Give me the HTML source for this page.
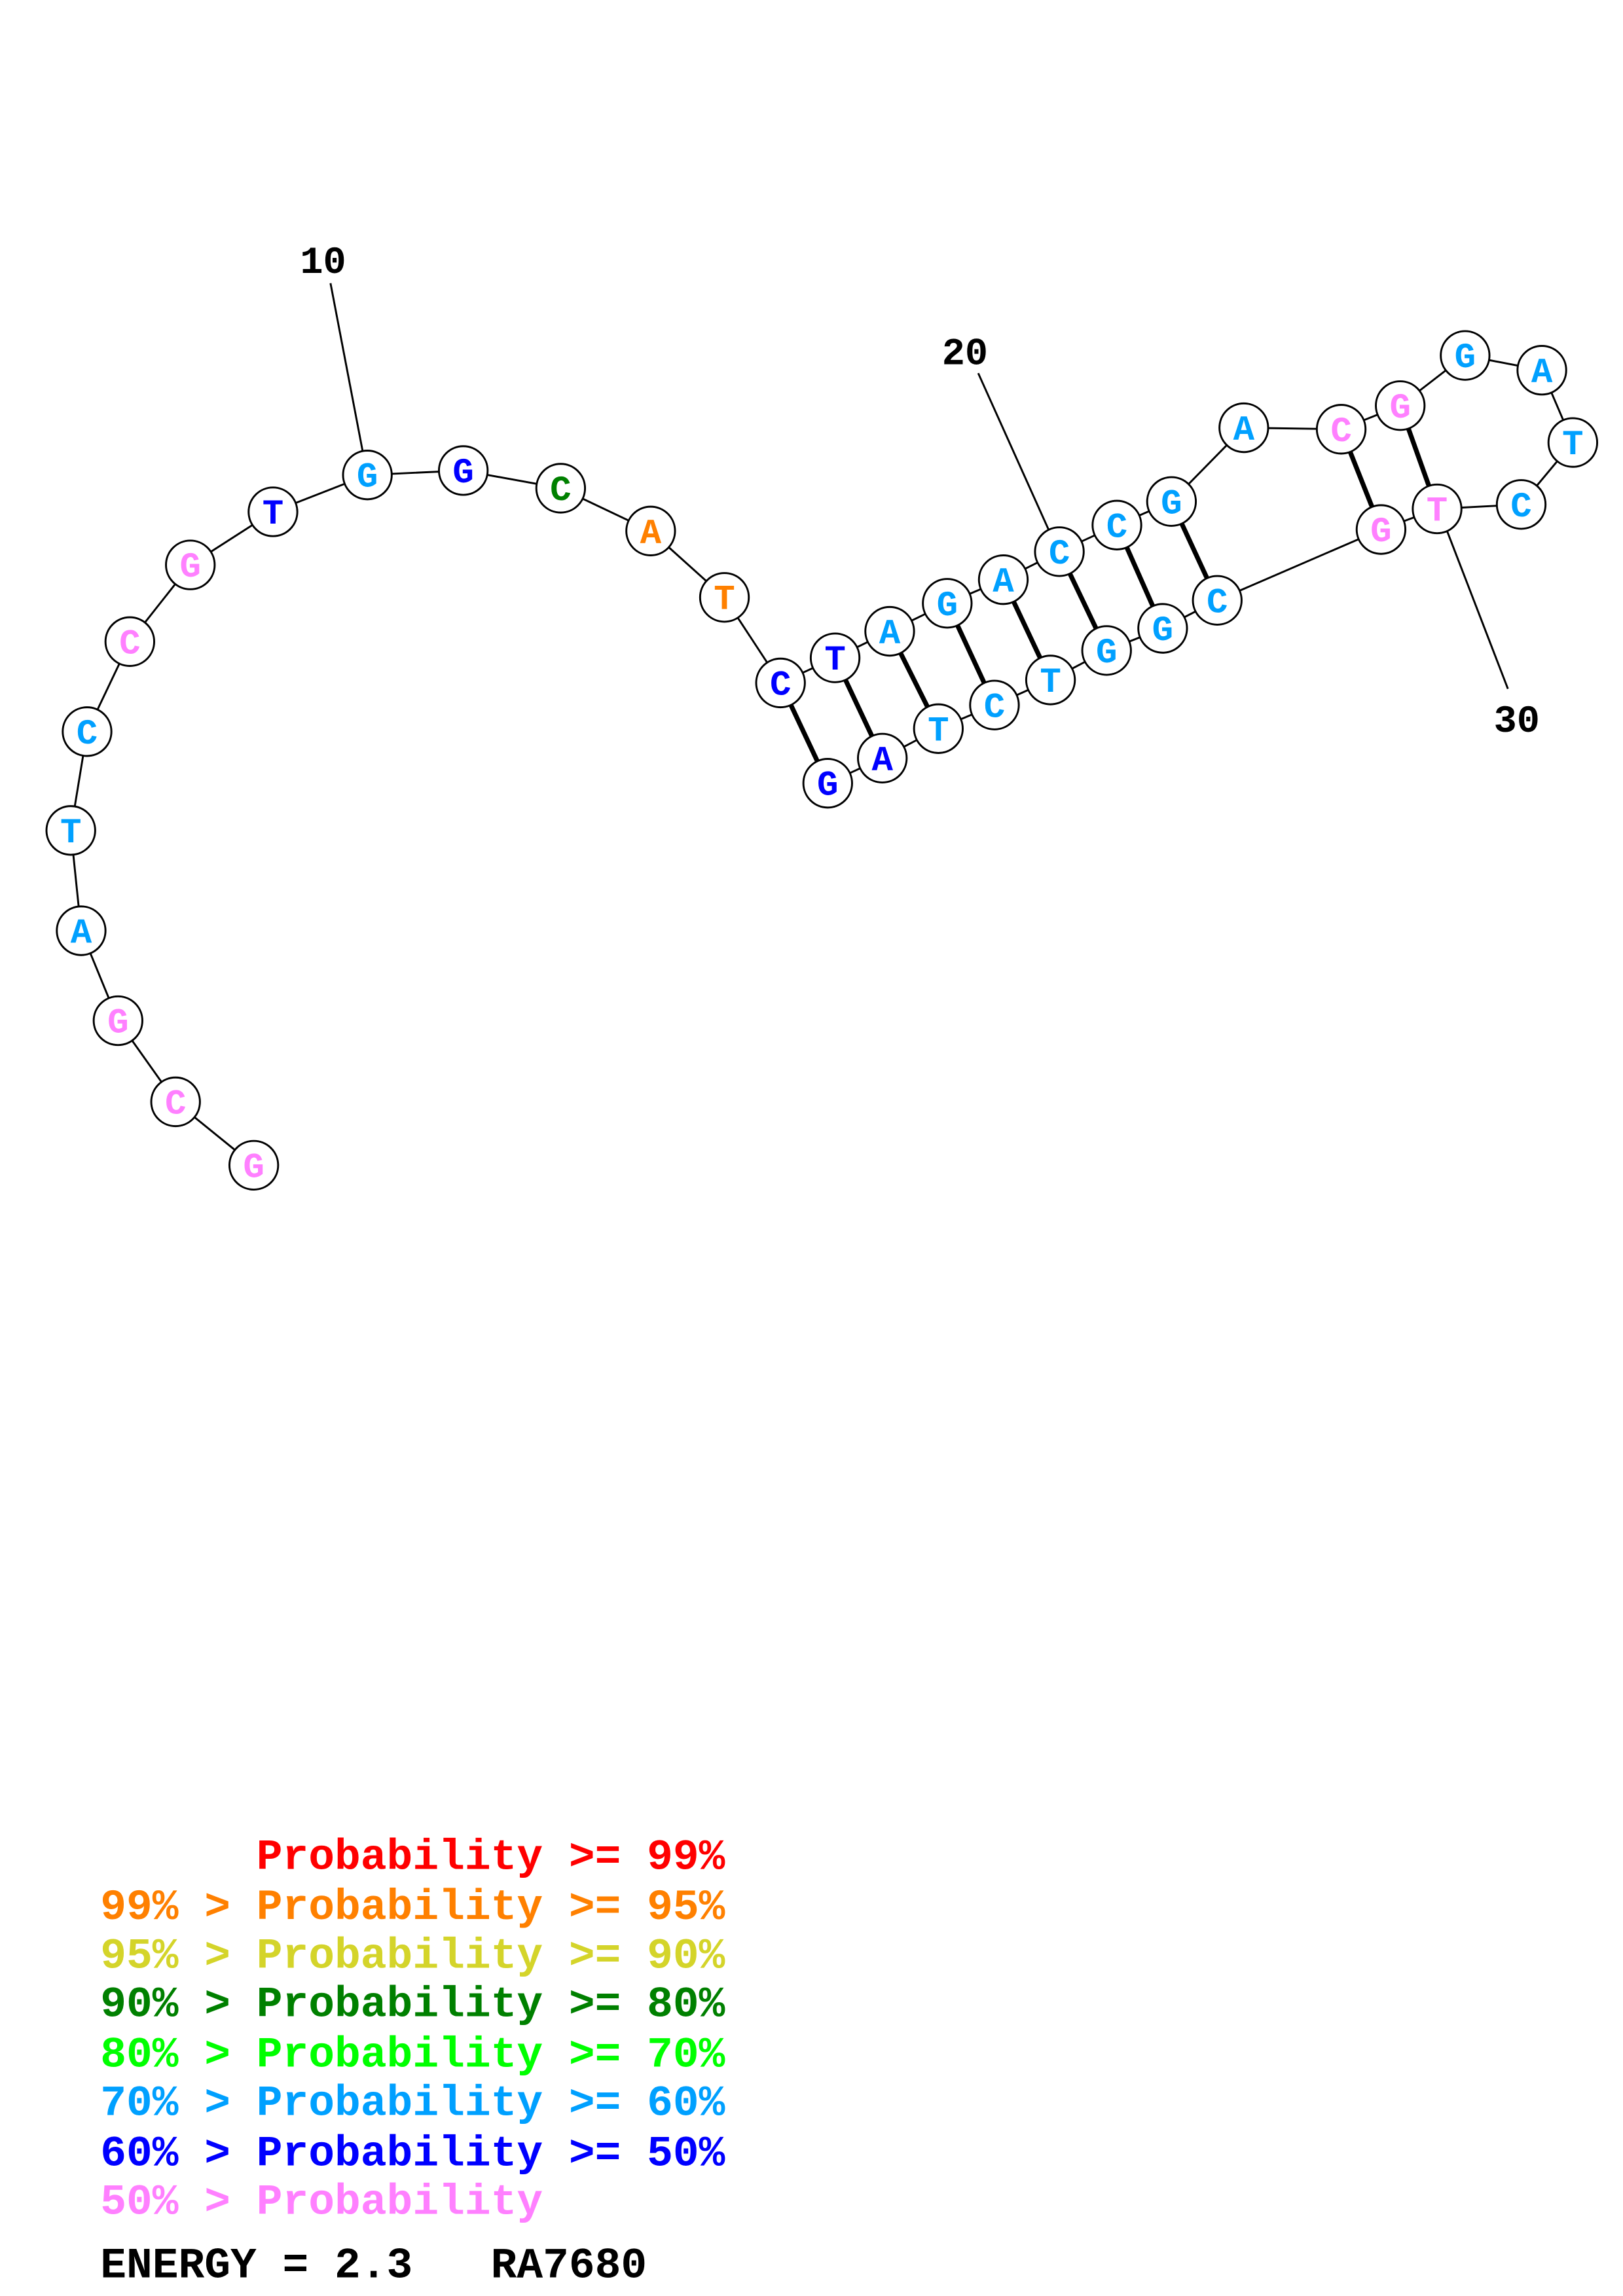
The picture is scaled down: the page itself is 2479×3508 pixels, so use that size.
<!DOCTYPE html>
<html><head><meta charset="utf-8"><style>html,body{margin:0;padding:0;background:#fff}svg{display:block}.pre{white-space:pre}</style></head>
<body>
<svg xmlns="http://www.w3.org/2000/svg" width="2479" height="3508" viewBox="0 0 1100 1556.6">
<g stroke="#000" stroke-width="1.3" fill="none">
<polyline points="172,790 119,747 80,692 55,631 48,563 59,496 88,435 129,383 185,347 249,322 314,319 380,331 441,360 491,405 529,463 566,446 603,428 642,409 680,393 718,374 757,356 794,340 843,290 909,291 949,275 993,241 1045,251 1066,300 1031,342 974,345 936,359 825,407 788,426 750,441 712,461 674,478 636,494 598,514 561,531"/>
<line x1="224" y1="192" x2="246" y2="307"/>
<line x1="663" y1="253" x2="712" y2="362"/>
<line x1="980" y1="358" x2="1022" y2="467"/>
</g>
<g stroke="#000" stroke-width="3.2">
<line x1="529" y1="463" x2="561" y2="531"/>
<line x1="566" y1="446" x2="598" y2="514"/>
<line x1="603" y1="428" x2="636" y2="494"/>
<line x1="642" y1="409" x2="674" y2="478"/>
<line x1="680" y1="393" x2="712" y2="461"/>
<line x1="718" y1="374" x2="750" y2="441"/>
<line x1="757" y1="356" x2="788" y2="426"/>
<line x1="794" y1="340" x2="825" y2="407"/>
<line x1="909" y1="291" x2="936" y2="359"/>
<line x1="949" y1="275" x2="974" y2="345"/>
</g>
<g stroke="#000" stroke-width="1.3" fill="#fff">
<circle cx="172" cy="790" r="16.5"/><circle cx="119" cy="747" r="16.5"/><circle cx="80" cy="692" r="16.5"/><circle cx="55" cy="631" r="16.5"/><circle cx="48" cy="563" r="16.5"/><circle cx="59" cy="496" r="16.5"/><circle cx="88" cy="435" r="16.5"/><circle cx="129" cy="383" r="16.5"/><circle cx="185" cy="347" r="16.5"/><circle cx="249" cy="322" r="16.5"/><circle cx="314" cy="319" r="16.5"/><circle cx="380" cy="331" r="16.5"/><circle cx="441" cy="360" r="16.5"/><circle cx="491" cy="405" r="16.5"/><circle cx="529" cy="463" r="16.5"/><circle cx="566" cy="446" r="16.5"/><circle cx="603" cy="428" r="16.5"/><circle cx="642" cy="409" r="16.5"/><circle cx="680" cy="393" r="16.5"/><circle cx="718" cy="374" r="16.5"/><circle cx="757" cy="356" r="16.5"/><circle cx="794" cy="340" r="16.5"/><circle cx="843" cy="290" r="16.5"/><circle cx="909" cy="291" r="16.5"/><circle cx="949" cy="275" r="16.5"/><circle cx="993" cy="241" r="16.5"/><circle cx="1045" cy="251" r="16.5"/><circle cx="1066" cy="300" r="16.5"/><circle cx="1031" cy="342" r="16.5"/><circle cx="974" cy="345" r="16.5"/><circle cx="936" cy="359" r="16.5"/><circle cx="825" cy="407" r="16.5"/><circle cx="788" cy="426" r="16.5"/><circle cx="750" cy="441" r="16.5"/><circle cx="712" cy="461" r="16.5"/><circle cx="674" cy="478" r="16.5"/><circle cx="636" cy="494" r="16.5"/><circle cx="598" cy="514" r="16.5"/><circle cx="561" cy="531" r="16.5"/>
</g>
<g font-family="Liberation Mono, monospace" font-weight="bold" font-size="24" text-anchor="middle">
<text x="172" y="798" fill="#ff80ff">G</text><text x="119" y="755" fill="#ff80ff">C</text><text x="80" y="700" fill="#ff80ff">G</text><text x="55" y="639" fill="#00a0ff">A</text><text x="48" y="571" fill="#00a0ff">T</text><text x="59" y="504" fill="#00a0ff">C</text><text x="88" y="443" fill="#ff80ff">C</text><text x="129" y="391" fill="#ff80ff">G</text><text x="185" y="355" fill="#0000ff">T</text><text x="249" y="330" fill="#00a0ff">G</text><text x="314" y="327" fill="#0000ff">G</text><text x="380" y="339" fill="#008000">C</text><text x="441" y="368" fill="#ff8000">A</text><text x="491" y="413" fill="#ff8000">T</text><text x="529" y="471" fill="#0000ff">C</text><text x="566" y="454" fill="#0000ff">T</text><text x="603" y="436" fill="#00a0ff">A</text><text x="642" y="417" fill="#00a0ff">G</text><text x="680" y="401" fill="#00a0ff">A</text><text x="718" y="382" fill="#00a0ff">C</text><text x="757" y="364" fill="#00a0ff">C</text><text x="794" y="348" fill="#00a0ff">G</text><text x="843" y="298" fill="#00a0ff">A</text><text x="909" y="299" fill="#ff80ff">C</text><text x="949" y="283" fill="#ff80ff">G</text><text x="993" y="249" fill="#00a0ff">G</text><text x="1045" y="259" fill="#00a0ff">A</text><text x="1066" y="308" fill="#00a0ff">T</text><text x="1031" y="350" fill="#00a0ff">C</text><text x="974" y="353" fill="#ff80ff">T</text><text x="936" y="367" fill="#ff80ff">G</text><text x="825" y="415" fill="#00a0ff">C</text><text x="788" y="434" fill="#00a0ff">G</text><text x="750" y="449" fill="#00a0ff">G</text><text x="712" y="469" fill="#00a0ff">T</text><text x="674" y="486" fill="#00a0ff">C</text><text x="636" y="502" fill="#00a0ff">T</text><text x="598" y="522" fill="#0000ff">A</text><text x="561" y="539" fill="#0000ff">G</text>
</g>
<g font-family="Liberation Mono, monospace" font-weight="bold" font-size="26" fill="#000" text-anchor="middle">
<text x="219" y="185">10</text><text x="654" y="247">20</text><text x="1028" y="496">30</text>
</g>
<g font-family="Liberation Mono, monospace" font-weight="bold" font-size="29.4" class="pre">
<text x="68" y="1267" fill="#ff0000" class="pre">      Probability &gt;= 99%</text>
<text x="68" y="1301" fill="#ff8000">99% &gt; Probability &gt;= 95%</text>
<text x="68" y="1334" fill="#d4d42a">95% &gt; Probability &gt;= 90%</text>
<text x="68" y="1367" fill="#008000">90% &gt; Probability &gt;= 80%</text>
<text x="68" y="1401" fill="#00ff00">80% &gt; Probability &gt;= 70%</text>
<text x="68" y="1434" fill="#00a0ff">70% &gt; Probability &gt;= 60%</text>
<text x="68" y="1468" fill="#0000ff">60% &gt; Probability &gt;= 50%</text>
<text x="68" y="1501" fill="#ff80ff">50% &gt; Probability</text>
<text x="68" y="1544" fill="#000" class="pre">ENERGY = 2.3   RA7680</text>
</g>
</svg>
</body></html>
